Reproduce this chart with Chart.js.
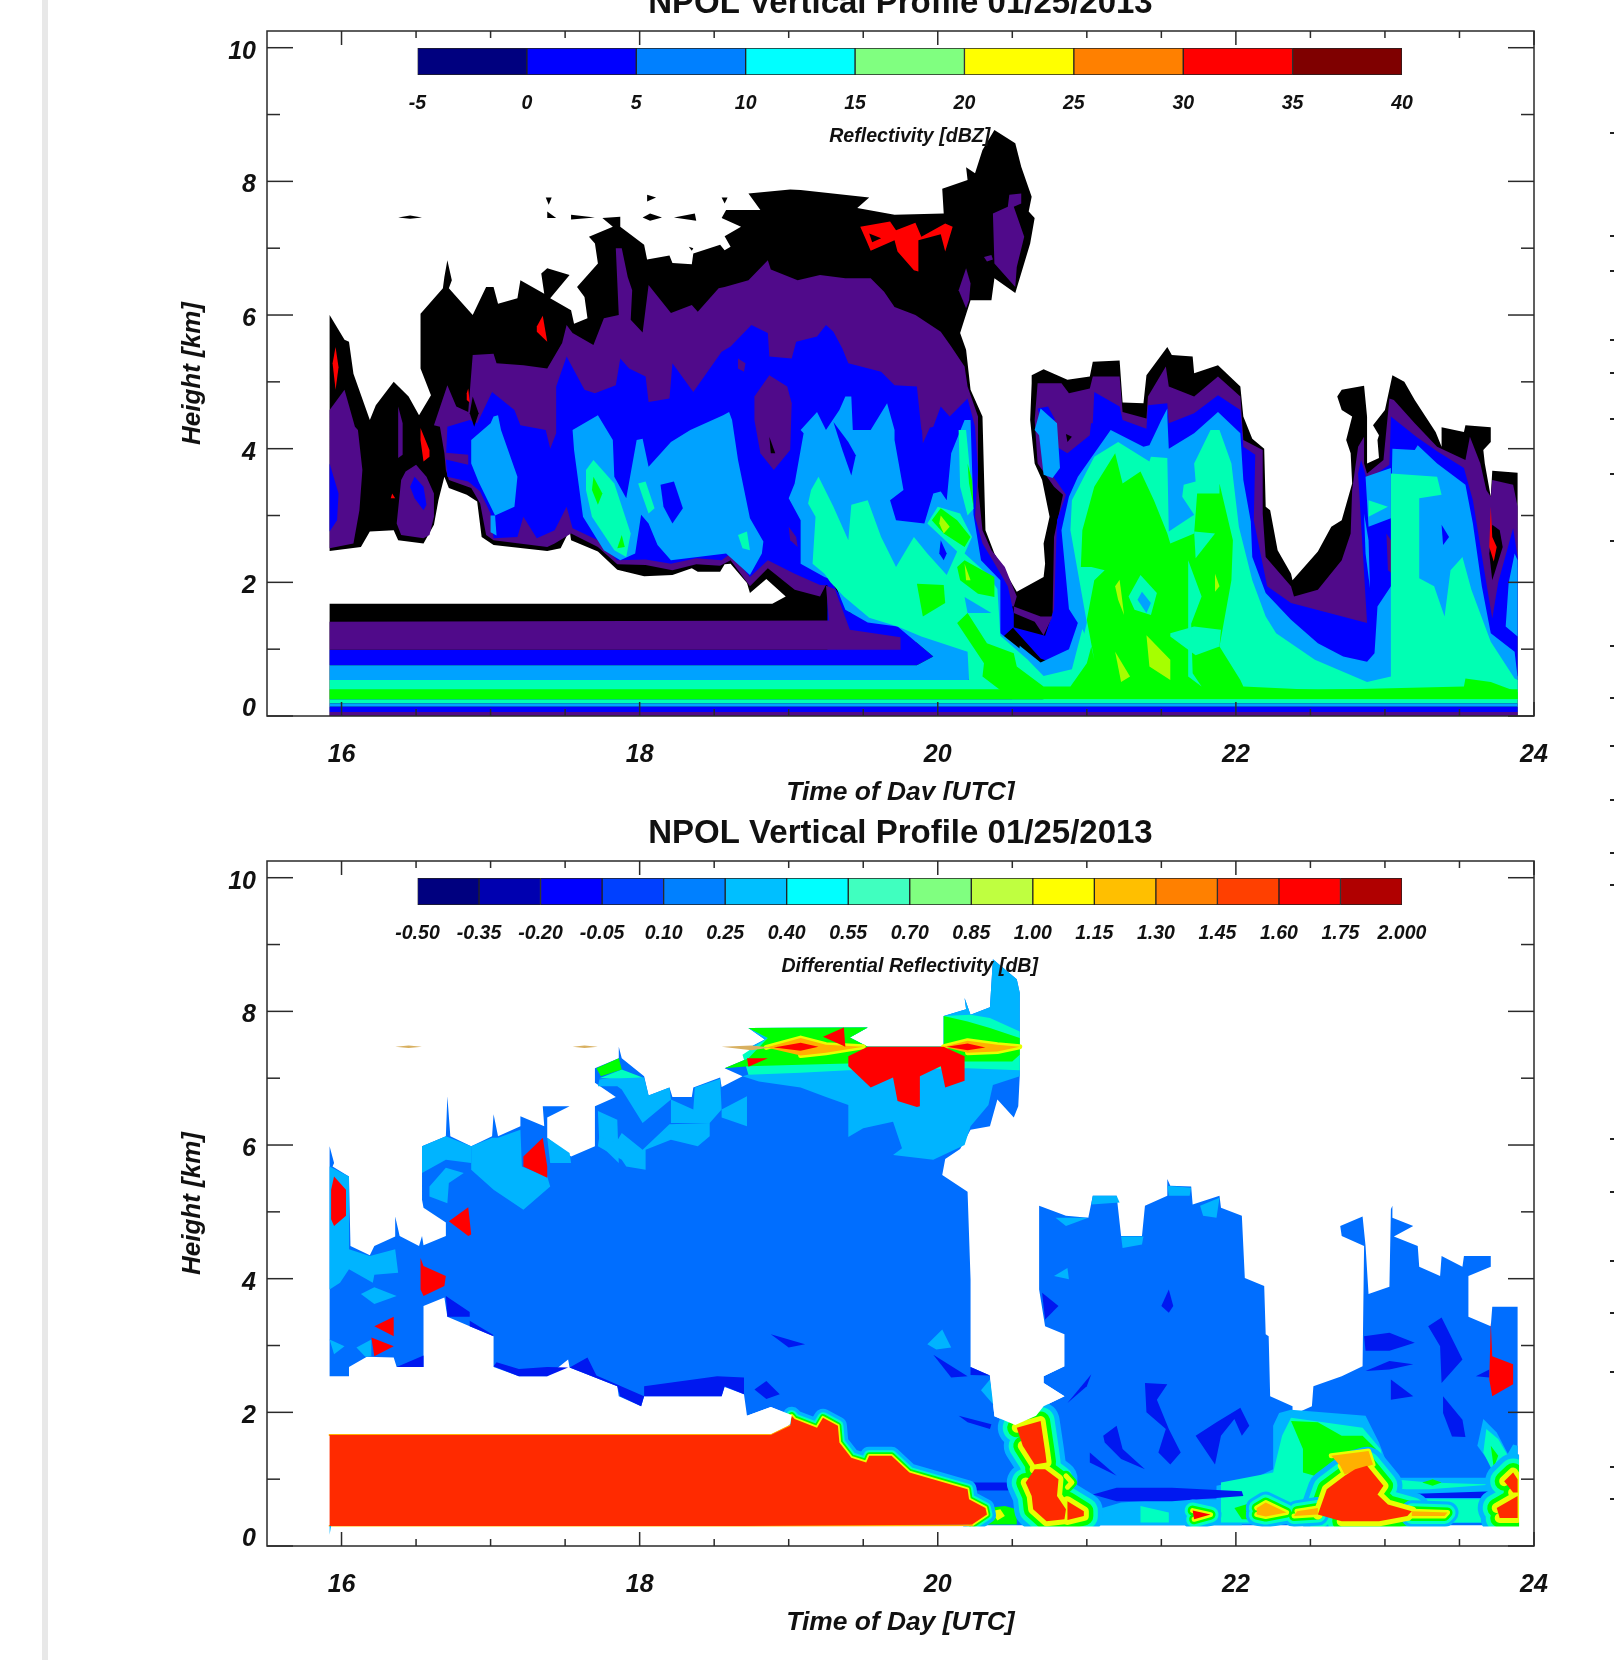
<!DOCTYPE html>
<html>
<head>
<meta charset="utf-8">
<title>NPOL Vertical Profile 01/25/2013</title>
<script src="https://cdn.jsdelivr.net/npm/chart.js@4"></script>
<style>
html, body { margin: 0; padding: 0; background: #fff; }
body { position: relative; width: 1614px; height: 1660px; overflow: hidden; }
.wrap { position: absolute; left: 0; width: 1614px; overflow: hidden; }
.wrap canvas { position: absolute; left: 0; }
.bar { position: absolute; left: 350px; }
.strip { position: absolute; left: 42px; top: 0; width: 6px; height: 1660px; background: #e8e8e8; }
.stray { position: absolute; left: 1610px; width: 4px; height: 2px; background: #222; }
</style>
</head>
<body>
<div class="strip"></div>
<div class="wrap" style="top:0;height:800px"><canvas id="refl" width="1614" height="896" style="top:-50px"></canvas></div>
<div class="wrap" style="top:800px;height:860px"><canvas id="zdr" width="1614" height="896" style="top:-20px"></canvas></div>
<canvas class="bar" id="reflBar" width="1130" height="120" style="top:35px"></canvas>
<canvas class="bar" id="zdrBar" width="1130" height="120" style="top:865px"></canvas>
<script>
// axes
const xMajor = [16, 18, 20, 22, 24];
const xMinor = [16.5, 17, 17.5, 18.5, 19, 19.5, 20.5, 21, 21.5, 22.5, 23, 23.5];
const yMajor = [0, 2, 4, 6, 8, 10];
const yMinor = [1, 3, 5, 7, 9];
const yLabelAt = [0.17, 2, 4, 6, 8, 10];
const yLabels = ['0', '2', '4', '6', '8', '10'];

// colour bars
const reflLabels = ['-5', '0', '5', '10', '15', '20', '25', '30', '35', '40'];
const reflColors = ['#00007f', '#0000ff', '#0080ff', '#00ffff', '#80ff80', '#ffff00', '#ff8000', '#ff0000', '#7f0000'];
const zdrLabels = ['-0.50', '-0.35', '-0.20', '-0.05', '0.10', '0.25', '0.40', '0.55', '0.70', '0.85', '1.00', '1.15', '1.30', '1.45', '1.60', '1.75', '2.000'];
const zdrColors = ['#00007f', '#0000b0', '#0000ff', '#0040ff', '#0080ff', '#00bfff', '#00ffff', '#40ffbf', '#80ff80', '#bfff40', '#ffff00', '#ffbf00', '#ff8000', '#ff4000', '#ff0000', '#b00000'];

// reflectivity contours, [hour, km]
const rBlack = [[15.92,6],[16.02,5.63],[16.05,5.6],[16.08,5.12],[16.19,4.43],[16.23,4.65],[16.35,5],[16.45,4.78],[16.52,4.5],[16.6,4.8],[16.53,5.2],[16.53,6.02],[16.68,6.4],[16.69,6.57],[16.71,6.82],[16.74,6.52],[16.72,6.4],[16.88,6],[16.97,6.42],[17.02,6.42],[17.05,6.17],[17.18,6.25],[17.2,6.52],[17.36,6.32],[17.34,6.62],[17.38,6.7],[17.53,6.6],[17.4,6.25],[17.54,6.07],[17.56,5.87],[17.65,5.95],[17.63,6.27],[17.58,6.42],[17.72,6.77],[17.7,7.07],[17.66,7.17],[17.82,7.32],[17.75,7.45],[17.87,7.47],[17.87,7.32],[18.03,7.05],[18.05,6.83],[18.2,6.89],[18.22,6.78],[18.35,6.76],[18.36,6.92],[18.54,7.05],[18.57,6.97],[18.61,7.02],[18.57,7.18],[18.68,7.32],[18.55,7.45],[18.58,7.57],[18.81,7.57],[18.73,7.82],[19.01,7.88],[19.08,7.87],[19.54,7.76],[19.46,7.6],[19.71,7.5],[20.04,7.52],[20.03,7.89],[20.2,8.02],[20.19,8.21],[20.25,8.12],[20.3,8.47],[20.38,8.77],[20.52,8.57],[20.56,8.22],[20.63,7.77],[20.61,7.55],[20.65,7.45],[20.62,7.07],[20.52,6.33],[20.38,6.55],[20.36,6.22],[20.22,6.22],[20.15,5.73],[20.19,5.48],[20.22,4.88],[20.3,4.48],[20.32,2.78],[20.38,2.43],[20.42,2.28],[20.53,1.86],[20.71,2.08],[20.72,2.28],[20.71,2.58],[20.75,2.98],[20.7,3.53],[20.65,3.78],[20.62,4.43],[20.63,4.98],[20.63,5.1],[20.71,5.19],[20.87,5.03],[21.02,5.08],[21.04,5.3],[21.22,5.32],[21.24,4.69],[21.38,4.68],[21.4,5.1],[21.54,5.52],[21.57,5.4],[21.71,5.38],[21.72,5.13],[21.88,5.25],[22.03,4.93],[22.05,4.48],[22.11,4.15],[22.19,4],[22.2,3.13],[22.23,3.08],[22.28,2.48],[22.37,2.13],[22.38,2.03],[22.55,2.46],[22.64,2.83],[22.71,2.93],[22.78,3.48],[22.77,3.93],[22.74,4.13],[22.78,4.48],[22.71,4.58],[22.68,4.78],[22.71,4.88],[22.86,4.94],[22.88,4.48],[22.88,3.78],[22.96,3.86],[22.95,4.13],[22.96,4.2],[22.92,4.35],[23,4.58],[23.05,5.1],[23.13,5],[23.2,4.73],[23.34,4.25],[23.38,4.03],[23.38,4.32],[23.53,4.25],[23.54,4.35],[23.71,4.32],[23.71,4.1],[23.66,3.98],[23.67,3.78],[23.71,3.28],[23.72,3.67],[23.89,3.64],[23.89,0],[15.92,0],[15.92,1.68],[18.89,1.68],[18.98,1.79],[18.85,2.05],[18.74,1.84],[18.72,1.99],[18.61,2.28],[18.57,2.27],[18.54,2.16],[18.39,2.16],[18.35,2.21],[18.22,2.11],[18.03,2.09],[17.85,2.19],[17.72,2.46],[17.54,2.63],[17.53,2.78],[17.47,2.51],[17.38,2.47],[17.02,2.56],[16.94,2.68],[16.91,3.21],[16.84,3.31],[16.72,3.41],[16.69,3.58],[16.65,3.23],[16.62,2.86],[16.55,2.58],[16.38,2.63],[16.35,2.78],[16.19,2.76],[16.13,2.53],[15.92,2.47]];
const rSpeck1 = [[16.38,7.46],[16.46,7.49],[16.54,7.46],[16.46,7.44]];
const rSpeck2 = [[17.37,7.76],[17.41,7.76],[17.39,7.65]];
const rSpeck3 = [[17.38,7.55],[17.44,7.45],[17.38,7.45]];
const rSpeck4 = [[17.54,7.5],[17.7,7.46],[17.54,7.43]];
const rSpeck5 = [[18.05,7.8],[18.11,7.76],[18.05,7.7]];
const rSpeck6 = [[18.02,7.46],[18.07,7.52],[18.15,7.46],[18.07,7.41]];
const rSpeck7 = [[18.23,7.46],[18.37,7.52],[18.38,7.41]];
const rSpeck8 = [[18.55,7.76],[18.59,7.76],[18.57,7.67]];
const rSpeck9 = [[18.33,7.02],[18.36,7],[18.35,6.96]];
const rPurpleLeft = [[15.92,4.58],[16.02,4.88],[16.09,4.33],[16.11,4.28],[16.14,3.68],[16.12,3.08],[16.08,2.58],[15.92,2.51]];
const rPurpleSliver = [[16.38,4.63],[16.41,4.38],[16.41,3.91],[16.38,3.86]];
const rPurpleIsle = [[16.5,3.76],[16.57,3.58],[16.62,3.33],[16.62,2.98],[16.59,2.71],[16.55,2.66],[16.4,2.71],[16.37,2.88],[16.4,3.53],[16.43,3.66]];
const rPurpleMain = [[16.71,4.95],[16.77,4.63],[16.85,4.55],[16.88,5.4],[17.02,5.42],[17.04,5.28],[17.22,5.25],[17.38,5.2],[17.48,5.58],[17.51,5.85],[17.55,5.73],[17.69,5.55],[17.76,5.95],[17.86,6],[17.84,7],[17.88,7],[17.92,6.57],[17.95,6.37],[17.94,5.93],[18.02,5.74],[18.06,6.45],[18.21,6.03],[18.35,6.15],[18.39,6.05],[18.53,6.4],[18.57,6.42],[18.73,6.52],[18.86,6.82],[18.88,6.68],[19.06,6.52],[19.21,6.6],[19.38,6.55],[19.55,6.55],[19.64,6.35],[19.71,6.12],[19.85,6],[20.02,5.75],[20.09,5.53],[20.18,5.23],[20.2,4.93],[20.27,4.48],[20.27,3.43],[20.3,2.78],[20.36,2.48],[20.45,2.23],[20.53,1.79],[20.51,1.64],[19.25,1.96],[19.21,1.79],[19.04,1.89],[18.86,2.21],[18.74,1.94],[18.61,2.33],[18.54,2.25],[18.38,2.27],[18.22,2.18],[18.04,2.26],[17.85,2.27],[17.72,2.53],[17.54,2.73],[17.43,2.58],[17.38,2.53],[17.02,2.63],[16.97,2.71],[16.93,3.18],[16.87,3.41],[16.72,3.53],[16.7,3.68],[16.69,3.93],[16.66,4.33],[16.62,4.35]];
const rPurpleLobe1 = [[20.37,7.52],[20.47,7.62],[20.48,7.8],[20.56,7.82],[20.56,7.67],[20.51,7.62],[20.58,7.17],[20.53,6.72],[20.52,6.42],[20.38,6.77]];
const rPurpleLobe2 = [[20.31,6.87],[20.36,6.9],[20.37,6.83],[20.33,6.8]];
const rPurpleLobe3 = [[20.14,6.37],[20.19,6.7],[20.22,6.47],[20.21,6.22],[20.19,6.1]];
const rPurpleEast = [[20.67,4.98],[20.83,4.98],[20.88,4.83],[21.02,4.9],[21.04,5.08],[21.22,5.08],[21.24,4.55],[21.4,4.45],[21.41,4.78],[21.53,5.23],[21.55,4.93],[21.72,4.78],[21.88,5.08],[22.03,4.78],[22.05,4.13],[22.18,3.98],[22.18,3.03],[22.2,2.38],[22.37,1.94],[22.39,1.79],[22.55,1.89],[22.71,2.33],[22.77,2.73],[22.78,3.38],[22.82,4.03],[22.86,4.18],[22.86,3.78],[22.88,3.63],[22.99,3.83],[23.03,4.75],[23.06,4.73],[23.2,4.38],[23.35,4.03],[23.54,3.83],[23.57,4.18],[23.64,3.78],[23.68,3.38],[23.71,3.28],[23.72,3.53],[23.86,3.46],[23.89,3.13],[23.89,2.23],[23.72,1.4],[22.88,1.37],[20.77,1.4],[20.77,1.49],[20.78,2.68],[20.84,3.31],[20.78,3.43],[20.67,3.78],[20.65,4.43]];
const rBlueLeft = [[15.92,3.78],[15.98,3.33],[15.97,2.93],[15.92,2.76]];
const rBlueIsle = [[16.49,3.58],[16.55,3.43],[16.57,3.16],[16.55,3.08],[16.49,3.26],[16.46,3.43]];
const rBlueMain = [[16.71,4.33],[16.86,4.43],[16.91,4.38],[17.01,4.85],[17.16,4.58],[17.2,4.35],[17.37,4.28],[17.4,4],[17.44,4.23],[17.44,4.93],[17.51,5.38],[17.63,4.88],[17.7,4.83],[17.84,4.95],[17.87,5.35],[17.93,5.2],[18.04,5.08],[18.06,4.7],[18.2,4.75],[18.22,5.28],[18.36,4.85],[18.55,5.45],[18.61,5.53],[18.75,5.85],[18.86,5.73],[18.87,5.38],[19.02,5.35],[19.05,5.6],[19.19,5.68],[19.25,5.85],[19.3,5.75],[19.36,5.5],[19.4,5.28],[19.62,5.15],[19.71,4.95],[19.86,4.93],[19.89,4.28],[19.97,4.33],[20.02,4.63],[20.08,4.48],[20.2,4.75],[20.25,4.33],[20.27,3.68],[20.25,2.98],[20.3,2.58],[20.36,2.36],[20.47,1.94],[20.51,1.54],[20.51,1.33],[20.42,1.15],[19.8,1.1],[19.45,1.4],[19.33,1.95],[19.21,1.96],[19.04,2.13],[18.86,2.33],[18.74,2.08],[18.61,2.43],[18.55,2.33],[18.38,2.36],[18.21,2.28],[18.04,2.34],[17.85,2.33],[17.72,2.63],[17.55,2.81],[17.51,3.13],[17.43,2.78],[17.31,2.66],[17.22,2.98],[17.18,2.68],[17.02,2.66],[17,3.03],[16.93,3.36],[16.85,3.51],[16.71,3.58],[16.7,3.83]];
const rBlueEast = [[20.67,4.6],[20.74,4.63],[20.8,4.38],[21.04,4.38],[21.05,4.85],[21.22,4.63],[21.24,4.43],[21.4,4.3],[21.41,4.65],[21.54,4.68],[21.55,4.38],[21.72,4.53],[21.88,4.8],[22.03,4.58],[22.05,4.03],[22.13,3.91],[22.12,2.93],[22.17,2.38],[22.21,1.94],[22.37,1.69],[22.88,1.39],[22.82,3.63],[22.84,3.83],[22.88,3.53],[23.03,3.76],[23.04,4.48],[23.21,4.18],[23.35,3.96],[23.53,3.71],[23.59,3.23],[23.67,2.13],[23.72,1.46],[23.76,2],[23.86,2.81],[23.89,2.38],[23.89,0.6],[21,0.6],[20.69,0.86],[20.5,1.33],[20.72,1.2],[20.78,1.6],[20.8,2.93],[20.86,3.31],[20.8,3.5],[20.7,3.82],[20.69,4.43]];
const rBlueBand = [[15.92,0.76],[19.86,0.76],[19.97,0.89],[19.73,1.34],[19.55,1.4],[19.41,1.55],[19.3,1.96],[19.26,1.96],[19.26,0.99],[15.92,0.99]];
const rPurpleBand = [[15.92,1.41],[19.27,1.43],[19.25,1.95],[19.31,1.9],[19.41,1.29],[19.75,1.18],[19.75,0.99],[15.92,0.99]];
const rPurpleStrip = [[16.7,3.94],[16.85,3.91],[16.85,3.76],[16.7,3.84]];
const rPurpleDome = [[18.77,4.78],[18.87,5.1],[18.99,4.93],[19.02,4.68],[19.01,3.98],[18.9,3.68],[18.81,3.93],[18.77,4.43]];
const rPurpleDot1 = [[18.66,5.35],[18.71,5.28],[18.7,5.15],[18.66,5.2]];
const rPurpleDot2 = [[19,2.83],[19.05,2.68],[19.06,2.53],[19.01,2.63]];
const rPurpleDot3 = [[19.89,4.43],[19.97,4.43],[19.9,4.08]];
const rPurpleDot4 = [[23.01,2.73],[23.04,2.63],[23.05,2.13],[23.02,2.18]];
const rPurpleGap = [[20.51,1.64],[20.69,1.49],[20.77,1.49],[20.71,1.21],[20.65,1.41],[20.51,1.54]];
const rPurpleKnob = [[20.74,4.43],[21.03,4.43],[21.02,4.2],[20.87,3.93],[20.78,4.05]];
const rBlackSliver = [[16.88,4.78],[16.92,4.53],[16.89,4.33],[16.86,4.53]];
const rBlackDot1 = [[18.87,4.18],[18.91,3.93],[18.88,3.93]];
const rBlackDot2 = [[20.86,4.22],[20.9,4.18],[20.87,4.1]];
const rBlackPocket = [[23.72,2.86],[23.77,2.78],[23.79,2.53],[23.72,2.03],[23.7,2.43]];
const rSky1 = [[16.87,4.13],[17,4.38],[17.02,4.48],[17.05,4.5],[17.07,4.28],[17.18,3.58],[17.16,3.13],[17.03,3],[16.98,3.23],[16.92,3.5],[16.87,3.78]];
const rSky1b = [[17,3],[17.03,3],[17.04,2.7],[17,2.75]];
const rSky2 = [[17.55,4.28],[17.72,4.5],[17.82,4.13],[17.83,3.58],[17.91,3.26],[17.98,4.13],[18.02,4.15],[18.06,3.73],[18.21,4.1],[18.34,4.28],[18.56,4.5],[18.6,4.55],[18.62,4.43],[18.66,3.83],[18.74,2.96],[18.83,2.61],[18.82,2.43],[18.74,2.11],[18.58,2.43],[18.21,2.33],[18.12,2.56],[18.06,2.88],[18.01,3.01],[17.97,2.43],[17.87,2.33],[17.76,2.48],[17.62,2.98],[17.56,3.98]];
const rSky3 = [[19.1,4.23],[19.08,4.28],[19.19,4.55],[19.25,4.28],[19.34,4.58],[19.38,4.78],[19.42,4.78],[19.43,4.28],[19.55,4.28],[19.66,4.68],[19.71,4.28],[19.71,4.13],[19.77,3.38],[19.68,3.23],[19.72,2.93],[19.91,2.88],[19.97,3.33],[20.02,3.36],[20.06,3.23],[20.09,3.93],[20.18,4.43],[20.22,4.43],[20.24,3.01],[20.29,2.33],[20.42,2.03],[20.42,1.24],[20.56,0.99],[20.71,0.61],[20.62,0.6],[20.2,0.54],[15.92,0.54],[15.92,0.76],[19.86,0.76],[19.97,0.89],[19.73,1.34],[19.53,1.4],[19.38,1.59],[19.3,2.03],[19.24,2.08],[19.08,2.28],[19.08,2.93],[19,3.26],[19.04,3.48]];
const rSkyV = [[20.55,1.05],[20.69,0.8],[20.88,1],[20.94,1.39],[20.95,0.3],[20.5,0.3]];
const rBluePocket1 = [[18.14,3.46],[18.23,3.51],[18.29,3.11],[18.22,2.88],[18.16,3.13]];
const rBluePocket2 = [[20.02,2.63],[20.06,2.43],[20.04,2.33],[20.01,2.43]];
const rBluePocket3 = [[19.3,4.4],[19.4,4.1],[19.45,3.9],[19.42,3.6],[19.36,3.98]];
const rSkyEastTop = [[20.65,4.28],[20.69,4.6],[20.8,4.38],[20.82,3.71],[20.77,3.56],[20.71,3.61],[20.68,4.2]];
const rSkyEast = [[20.83,2.78],[20.88,3.28],[20.94,3.58],[21.16,4.28],[21.38,4.03],[21.42,4.05],[21.5,4.43],[21.54,4.6],[21.54,4.48],[21.55,4],[21.72,4.23],[21.88,4.55],[22.03,4.23],[22.05,3.53],[22.1,2.91],[22.11,2.38],[22.2,1.84],[22.37,1.44],[22.55,1.09],[22.72,0.89],[22.88,0.81],[22.93,0.94],[22.95,1.64],[23.04,1.94],[23.1,2.28],[23.04,2.93],[23.05,4],[23.2,3.98],[23.22,4.05],[23.35,3.78],[23.54,3.46],[23.59,2.88],[23.65,1.94],[23.71,1.24],[23.87,0.96],[23.89,0.58],[23.89,0.3],[20.9,0.3],[20.9,0.84],[20.94,1.39],[20.88,1.6]];
const rSkyPatch = [[22.87,3.58],[23.04,3.71],[23.04,2.96],[22.89,2.83]];
const rBlueDot = [[23.38,2.86],[23.43,2.68],[23.39,2.56]];
const rSkySliver = [[22.86,3.03],[22.89,2.63],[22.9,1.91],[22.87,2.43]];
const rSkyRight = [[23.83,1.99],[23.87,2.43],[23.89,2.33],[23.89,1.19],[23.81,1.34]];
const rTeal1 = [[17.64,3.68],[17.69,3.83],[17.83,3.48],[17.94,2.73],[17.91,2.38],[17.83,2.48],[17.68,2.98],[17.64,3.38]];
const rTeal2 = [[17.99,3.48],[18.04,3.51],[18.1,3.11],[18.06,3.03],[18.02,3.28]];
const rTeal3 = [[18.66,2.71],[18.72,2.76],[18.74,2.48],[18.69,2.51]];
const rTealMid = [[19.15,3.38],[19.2,3.58],[19.3,3.13],[19.4,2.63],[19.42,3.16],[19.53,3.23],[19.62,2.68],[19.72,2.23],[19.84,2.68],[19.93,2.43],[20.06,2.11],[20.13,2.46],[19.93,2.88],[20,3.13],[20.15,3.03],[20.23,2.68],[20.18,2.43],[20.33,2.13],[20.4,1.9],[20.42,1.2],[20.6,0.85],[20.72,0.42],[20.72,0.39],[15.92,0.39],[15.92,0.54],[20.21,0.54],[20.2,0.96],[19.89,1.19],[19.73,1.34],[19.54,1.47],[19.37,1.79],[19.28,2],[19.24,2.13],[19.16,2.28],[19.18,2.98],[19.13,3.18]];
const rTealV = [[20.6,0.85],[20.71,0.6],[20.9,0.7],[20.97,1.3],[21.03,1],[21,0.4],[20.6,0.4]];
const rTealCol = [[20.14,4.28],[20.19,4.28],[20.24,3.1],[20.2,3],[20.15,3.43]];
const rTealEast = [[20.89,2.78],[20.9,3.23],[21.05,3.88],[21.21,4.1],[21.42,3.81],[21.43,3.88],[21.54,3.86],[21.55,2.76],[21.72,3.01],[21.64,3.28],[21.65,3.46],[21.73,3.51],[21.72,3.78],[21.83,4.28],[21.89,4.28],[21.97,3.78],[22.02,2.83],[22.11,2.03],[22.2,1.49],[22.27,1.24],[22.53,0.84],[22.88,0.51],[23.04,0.59],[23.04,3.63],[23.35,3.58],[23.38,3.31],[23.23,3.26],[23.23,2.06],[23.33,1.94],[23.4,1.49],[23.44,2.18],[23.52,2.38],[23.58,1.89],[23.71,1.11],[23.87,0.56],[23.89,0.54],[23.89,0.24],[20.7,0.24],[20.9,0.44],[21,1.4]];
const rTealNotch = [[22.89,3.23],[23.02,3.13],[22.89,2.98]];
const rGreen1 = [[17.69,3.58],[17.75,3.33],[17.72,3.16],[17.68,3.38]];
const rGreen2 = [[17.88,2.71],[17.9,2.53],[17.85,2.51]];
const rGreen3 = [[20.2,3.78],[20.23,3.53],[20.24,3.13],[20.21,3.48]];
const rGreen4 = [[19.86,1.98],[20.04,1.96],[20.05,1.69],[19.9,1.49]];
const rGreen5 = [[19.96,2.93],[20.02,3.11],[20.13,2.93],[20.22,2.68],[20.18,2.53],[20.04,2.73]];
const rGreen6 = [[20.13,2.23],[20.18,2.33],[20.38,2.08],[20.38,1.78],[20.27,1.83],[20.15,2.03]];
const rGreenEast = [[20.97,2.78],[21.05,3.43],[21.19,3.93],[21.24,3.48],[21.36,3.66],[21.45,3.23],[21.54,2.73],[21.56,2.58],[21.72,2.73],[21.74,3.33],[21.89,3.33],[21.89,3.48],[21.98,2.63],[21.97,2.03],[21.89,1.04],[22.03,0.54],[22.05,0.44],[22.55,0.39],[23.53,0.44],[23.54,0.56],[23.71,0.51],[23.89,0.36],[23.89,0.25],[20.5,0.25],[20.3,0.59],[20.31,0.79],[20.13,1.39],[20.2,1.54],[20.33,1.09],[20.51,0.94],[20.53,0.74],[20.71,0.44],[20.89,0.44],[21,0.79],[21.03,1.04],[21.05,0.84],[21,1.44],[21.05,2.03],[21.12,2.18],[21.03,2.23],[20.96,2.23]];
const rTealOver1 = [[21.72,2.76],[21.86,2.73],[21.73,2.36]];
const rTealOver2 = [[21.56,1.24],[21.72,1.34],[21.9,1.29],[21.89,1.04],[21.73,0.91],[21.56,1.19]];
const rTealOver3 = [[21.68,2.33],[21.77,1.79],[21.7,1.38],[21.71,0.64],[21.77,0.44],[21.68,0.59]];
const rTealRing = [[21.28,1.79],[21.36,2.11],[21.47,1.84],[21.43,1.51],[21.32,1.59]];
const rSkyRing = [[21.34,1.74],[21.37,1.86],[21.43,1.69],[21.4,1.54]];
const rSkyMid = [[20.18,1.78],[20.36,1.54],[20.2,1.54]];
const rYg1 = [[20.02,3],[20.08,2.83],[20.04,2.73],[20.01,2.88]];
const rYg2 = [[20.18,2.28],[20.22,2.03],[20.19,2.03]];
const rYg3 = [[21.19,1.94],[21.22,2.04],[21.25,1.51],[21.21,1.74]];
const rYg4 = [[21.19,0.96],[21.29,0.59],[21.23,0.51]];
const rYg5 = [[21.4,1.21],[21.56,0.84],[21.56,0.54],[21.42,0.74]];
const rYg6 = [[21.86,2.13],[21.89,1.94],[21.86,1.86]];
const rStripeGreen = [[15.92,0.25],[15.92,0.4],[23.89,0.4],[23.89,0.25]];
const rStripeTeal = [[15.92,0.19],[15.92,0.25],[23.89,0.25],[23.89,0.19]];
const rStripeSky = [[15.92,0.14],[15.92,0.19],[23.89,0.19],[23.89,0.14]];
const rStripeBlue = [[15.92,0.06],[15.92,0.14],[23.89,0.14],[23.89,0.06]];
const rStripePurple = [[15.92,0],[15.92,0.06],[23.89,0.06],[23.89,0]];
const rRedTop = [[19.48,7.32],[19.68,7.4],[19.72,7.27],[19.85,7.38],[19.89,7.17],[20.05,7.37],[20.1,7.32],[20.05,6.95],[20.02,7.21],[19.87,7.12],[19.87,6.65],[19.84,6.67],[19.73,6.95],[19.71,7.12],[19.55,6.96],[19.52,7.12]];
const rRedHole = [[19.54,7.22],[19.62,7.15],[19.56,7.09]];
const rRed1 = [[15.94,5.28],[15.96,5.52],[15.98,5.22],[15.96,4.88]];
const rRed2 = [[17.31,5.83],[17.35,5.99],[17.38,5.6],[17.31,5.75]];
const rRed3 = [[16.84,4.83],[16.85,4.9],[16.86,4.69],[16.84,4.73]];
const rRed4 = [[16.53,4.31],[16.59,3.98],[16.59,3.88],[16.55,3.81],[16.53,4.13]];
const rRed5 = [[16.34,3.33],[16.36,3.26],[16.33,3.26]];
const rRed6 = [[23.71,3.13],[23.72,2.68],[23.75,2.53],[23.73,2.31],[23.7,2.53]];

// differential reflectivity contours, [hour, km]
const zMain = [[15.92,5.98],[15.95,5.73],[15.94,5.68],[16.05,5.53],[16.06,4.49],[16.19,4.35],[16.22,4.49],[16.36,4.63],[16.36,4.93],[16.39,4.64],[16.52,4.49],[16.54,4.64],[16.55,4.5],[16.7,4.64],[16.7,4.84],[16.55,5.06],[16.54,5.18],[16.54,5.98],[16.7,6.13],[16.71,6.73],[16.73,6.13],[16.87,5.98],[17.01,6.13],[17.02,6.46],[17.05,6.13],[17.2,6.28],[17.2,6.43],[17.36,6.28],[17.35,6.58],[17.53,6.58],[17.38,6.41],[17.38,6.11],[17.54,5.83],[17.7,5.98],[17.7,6.58],[17.84,6.72],[17.7,6.93],[17.7,7.15],[17.86,7.3],[17.86,7.47],[17.88,7.3],[18.03,7.03],[18.06,6.74],[18.2,6.86],[18.22,6.72],[18.35,6.72],[18.36,6.86],[18.54,7.01],[18.55,6.87],[18.69,7.03],[18.57,7.15],[18.73,7.3],[18.86,7.3],[18.73,7.45],[18.84,7.58],[18.73,7.75],[19.53,7.76],[19.41,7.61],[19.53,7.47],[20.04,7.47],[20.04,7.93],[20.19,8.03],[20.18,8.2],[20.22,7.95],[20.35,8.06],[20.37,8.78],[20.53,8.48],[20.55,8.28],[20.55,7.03],[20.54,6.58],[20.51,6.41],[20.4,6.68],[20.35,6.28],[20.22,6.23],[20.15,5.94],[20.05,5.79],[20.03,5.55],[20.2,5.3],[20.22,3.99],[20.22,2.68],[20.35,2.55],[20.38,1.94],[20.52,1.81],[20.66,1.95],[20.71,2.09],[20.85,2.24],[20.71,2.44],[20.71,2.54],[20.85,2.69],[20.85,3.17],[20.72,3.29],[20.68,3.84],[20.68,5.09],[20.86,4.94],[21.01,4.91],[21.04,5.24],[21.2,5.24],[21.23,4.64],[21.37,4.64],[21.39,5.09],[21.54,5.24],[21.54,5.49],[21.56,5.39],[21.7,5.38],[21.71,5.11],[21.89,5.24],[21.9,5.06],[22.04,4.94],[22.06,4.01],[22.19,3.89],[22.2,3.17],[22.22,3.14],[22.23,2.24],[22.38,2.09],[22.38,1.96],[22.51,2.09],[22.52,2.39],[22.71,2.54],[22.85,2.69],[22.86,4.49],[22.71,4.64],[22.7,4.79],[22.85,4.93],[22.87,4.49],[22.89,3.77],[23.03,3.88],[23.04,5.04],[23.05,5.09],[23.05,4.91],[23.19,4.79],[23.06,4.63],[23.22,4.49],[23.23,4.18],[23.37,4.04],[23.38,4.34],[23.52,4.18],[23.53,4.34],[23.71,4.34],[23.71,4.18],[23.56,4.04],[23.56,3.43],[23.71,3.29],[23.72,3.58],[23.89,3.58],[23.89,0.31],[19,0.31],[19.02,1.95],[18.88,2.08],[18.72,1.95],[18.7,2.27],[18.57,2.38],[18.55,2.24],[18.03,2.24],[18.01,2.09],[17.86,2.24],[17.85,2.39],[17.53,2.67],[17.52,2.79],[17.38,2.54],[17.19,2.54],[17.02,2.68],[17.02,3.14],[16.86,3.29],[16.71,3.43],[16.69,3.72],[16.55,3.59],[16.55,2.68],[16.37,2.68],[16.35,2.82],[16.17,2.83],[16.05,2.68],[16.05,2.54],[15.92,2.54]];
const zSky1 = [[15.92,5.68],[16.05,5.53],[16.05,4.44],[16.19,4.34],[16.36,4.44],[16.38,4.09],[16.22,4.06],[16.21,3.94],[16.05,4.14],[15.99,3.94],[15.92,3.84]];
const zSky2 = [[16.13,3.77],[16.22,3.87],[16.37,3.74],[16.22,3.62]];
const zSky3 = [[16.1,2.97],[16.2,3.09],[16.2,2.84],[16.16,2.83]];
const zSky4 = [[15.92,3.09],[16.02,2.99],[15.95,2.87]];
const zSky5 = [[16.54,5.98],[16.7,6.13],[16.87,5.98],[16.87,5.73],[16.7,5.78],[16.54,5.58]];
const zSky6 = [[16.59,5.38],[16.7,5.66],[16.82,5.58],[16.72,5.43],[16.71,5.13],[16.59,5.23]];
const zSky7 = [[16.87,5.98],[17.01,6.11],[17.05,6.11],[17.2,6.23],[17.21,5.68],[17.38,5.53],[17.4,5.38],[17.22,5.03],[17.02,5.33],[16.87,5.63]];
const zSky8 = [[17.38,6.11],[17.53,5.88],[17.54,5.73],[17.4,5.73]];
const zSky9 = [[17.72,6.51],[17.85,6.38],[17.86,5.73],[17.73,6.01]];
const zSky10 = [[17.73,6.98],[17.88,7.03],[18.03,7.01],[18.06,6.74],[18.2,6.86],[18.21,6.68],[18.02,6.33],[17.88,6.83],[17.85,6.88],[17.72,6.88]];
const zSky11 = [[17.88,6.18],[18.02,5.93],[18.2,6.31],[18.47,6.33],[18.47,6.13],[18.39,5.98],[18.21,6.08],[18.04,5.93],[18.04,5.63],[17.91,5.68],[17.88,5.78],[17.72,5.98],[17.73,6.13],[17.84,6.03]];
const zSky12 = [[18.21,6.68],[18.36,6.53],[18.37,6.86],[18.54,6.99],[18.55,6.53],[18.47,6.33],[18.21,6.33]];
const zSky13 = [[18.55,6.53],[18.72,6.73],[18.72,6.28],[18.55,6.41]];
const zSky14 = [[20.78,4.04],[20.87,4.16],[20.88,3.99]];
const zSky15 = [[21.04,5.24],[21.2,5.24],[21.22,5.14],[21.03,5.11]];
const zSky16 = [[21.23,4.63],[21.38,4.63],[21.37,4.51],[21.24,4.46]];
const zSky17 = [[20.79,4.91],[21.01,4.91],[20.86,4.79]];
const zSky18 = [[21.76,5.09],[21.89,5.21],[21.87,4.91],[21.78,4.94]];
const zSky19 = [[21.54,5.39],[21.7,5.36],[21.69,5.24],[21.55,5.24]];
const zSky20 = [[20.29,2.33],[20.35,2.49],[20.38,2.1]];
const zSky21 = [[19.93,3.02],[20.03,3.24],[20.09,2.97],[19.99,2.94]];
const zSkyTop = [[18.69,7.03],[18.8,7.1],[18.73,7.3],[18.86,7.3],[18.73,7.45],[18.84,7.58],[18.73,7.75],[19.53,7.76],[19.41,7.61],[19.53,7.47],[20.04,7.47],[20.04,7.93],[20.19,8.03],[20.18,8.2],[20.22,7.95],[20.35,8.06],[20.37,8.78],[20.53,8.48],[20.55,8.28],[20.55,7.03],[20.37,6.9],[20.34,6.6],[20.22,6.28],[20.18,6],[19.97,5.78],[19.7,5.85],[19.76,5.95],[19.7,6.35],[19.5,6.25],[19.4,6.12],[19.4,6.6],[19.25,6.72],[19.08,6.86],[18.8,6.95]];
const zTealTop = [[18.73,7.05],[19.08,7.08],[19.4,7.12],[20.2,7.15],[20.55,7.12],[20.55,7.7],[20.35,7.9],[20.22,7.95],[20.04,7.93],[20.04,7.47],[19.53,7.47],[19.41,7.61],[19.53,7.76],[18.73,7.75],[18.86,7.6],[18.69,7.35]];
const zGreenTop = [[18.57,7.15],[18.73,7.18],[19.08,7.2],[19.4,7.22],[20.15,7.25],[20.5,7.25],[20.55,7.35],[20.55,7.6],[20.35,7.75],[20.2,7.85],[20.04,7.93],[20.04,7.47],[19.53,7.47],[19.41,7.61],[19.53,7.76],[18.73,7.75],[18.86,7.6],[18.73,7.3]];
const zGreenA = [[17.71,7.15],[17.86,7.3],[17.88,7.13],[17.74,7.03]];
const zTealA = [[17.73,7],[17.88,7.13],[18.02,7.01],[17.87,7]];
const zLensOrange1 = [[18.85,7.46],[19.08,7.6],[19.25,7.5],[19.5,7.47],[19.25,7.38],[19.08,7.34]];
const zLensRed1 = [[18.9,7.46],[19.08,7.53],[19.2,7.47],[19.08,7.41]];
const zLensOrange2 = [[20.04,7.47],[20.2,7.56],[20.4,7.5],[20.55,7.47],[20.4,7.4],[20.2,7.38]];
const zLensRed2 = [[20.06,7.47],[20.2,7.52],[20.32,7.46],[20.2,7.42]];
const zGold1 = [[16.36,7.47],[16.45,7.49],[16.54,7.47],[16.45,7.45]];
const zGold2 = [[17.55,7.47],[17.63,7.49],[17.72,7.47],[17.63,7.45]];
const zGold3 = [[18.55,7.47],[18.75,7.49],[18.88,7.46],[18.75,7.42]];
const zRedA = [[19.23,7.62],[19.37,7.76],[19.38,7.47]];
const zRedB = [[18.72,7.3],[18.86,7.3],[18.73,7.17]];
const zRedC = [[19.4,7.33],[19.53,7.47],[20.04,7.47],[20.18,7.33],[20.18,6.96],[20.05,6.86],[20.02,7.18],[19.88,7.03],[19.88,6.58],[19.86,6.57],[19.73,6.66],[19.7,7.01],[19.55,6.86],[19.4,7.18]];
const zRed1 = [[15.95,5.53],[16.03,5.33],[16.03,4.94],[15.95,4.79],[15.93,4.89],[15.93,5.33]];
const zRed2 = [[16.72,4.86],[16.85,5.07],[16.87,4.66],[16.85,4.64]];
const zRed3 = [[17.22,5.83],[17.35,6.11],[17.38,5.68],[17.38,5.51],[17.22,5.68]];
const zRed4 = [[16.53,4.31],[16.55,4.19],[16.7,4.04],[16.69,3.89],[16.55,3.74],[16.53,3.84]];
const zRed5 = [[16.22,3.29],[16.35,3.43],[16.35,3.14]];
const zRed6 = [[16.2,3.12],[16.35,2.99],[16.22,2.84]];
const zRed7 = [[23.71,3.34],[23.72,2.84],[23.86,2.72],[23.86,2.42],[23.72,2.24],[23.7,2.49]];
const zDark1 = [[17.02,2.69],[17.19,2.54],[17.38,2.54],[17.52,2.67],[17.38,2.68],[17.19,2.65],[17.04,2.75]];
const zDark2 = [[17.53,2.67],[17.65,2.82],[17.71,2.55],[18.03,2.24],[18.01,2.09],[17.87,2.24],[17.85,2.39]];
const zDark3 = [[18.03,2.39],[18.52,2.54],[18.7,2.52],[18.7,2.27],[18.57,2.39],[18.55,2.24],[18.03,2.24]];
const zDark4 = [[18.77,2.34],[18.85,2.47],[18.94,2.27],[18.85,2.2]];
const zDark5 = [[16.7,3.74],[16.86,3.5],[16.86,3.43],[16.71,3.43]];
const zDark6 = [[16.86,3.37],[17.01,3.17],[17.02,3.14],[16.86,3.29]];
const zDark7 = [[18.88,3.17],[19.11,3.02],[19,2.97]];
const zDark8 = [[19.97,2.86],[20.2,2.54],[20.09,2.52]];
const zDark9 = [[20.14,1.95],[20.36,1.82],[20.35,1.75],[20.2,1.85]];
const zDark10 = [[20.22,2.68],[20.35,2.55],[20.22,2.56]];
const zDark11 = [[16.37,2.68],[16.55,2.85],[16.55,2.68]];
const zDark12 = [[21.11,1.65],[21.2,1.8],[21.24,1.45],[21.39,1.15],[21.23,1.3],[21.12,1.55]];
const zDark13 = [[21.39,2.44],[21.54,2.42],[21.47,2.19],[21.55,1.75],[21.63,1.4],[21.56,1.22],[21.48,1.4],[21.53,1.75],[21.4,2]];
const zDark14 = [[21.87,1.85],[22.03,2.07],[22.09,1.8],[22.04,1.65],[21.99,1.9],[21.9,1.65],[21.86,1.22],[21.73,1.65]];
const zDark15 = [[21.02,1.4],[21.2,1.05],[21.02,1.25]];
const zDark16 = [[20.7,3.79],[20.81,3.59],[20.72,3.39]];
const zDark17 = [[20.87,2.14],[21.03,2.57],[21,2.39]];
const zDark18 = [[22.86,3.14],[23.03,3.19],[23.2,3.04],[23.03,2.92],[22.87,2.92]];
const zDark19 = [[22.87,2.62],[23.03,2.77],[23.19,2.72],[23.03,2.64]];
const zDark20 = [[23.04,2.49],[23.19,2.24],[23.04,2.19]];
const zDark21 = [[23.29,3.29],[23.38,3.42],[23.52,2.79],[23.38,2.44],[23.37,2.99]];
const zDark22 = [[23.39,2.24],[23.52,1.89],[23.54,1.63],[23.45,1.64],[23.39,1.99]];
const zDark23 = [[23.61,2.54],[23.7,2.64],[23.7,2.52]];
const zDark24 = [[21.5,3.59],[21.55,3.84],[21.58,3.59],[21.55,3.49]];
const zLowSky1 = [[22.25,1.8],[22.29,1.99],[22.37,2.04],[22.87,1.95],[22.96,1.55],[23.05,1.02],[23.73,1.02],[23.86,1.52],[23.89,1.5],[23.89,0.35],[21.87,0.32],[21.87,0.9],[22.13,1.02],[22.25,1.15]];
const zLowSky2 = [[21,0.5],[21.23,0.65],[21.57,0.7],[22.04,0.7],[22.04,0.31],[21,0.31]];
const zLowSky3 = [[23.66,1.9],[23.75,1.7],[23.89,1.1],[23.75,1.1],[23.62,1.5]];
const zLowTeal1 = [[22.31,1.65],[22.37,1.92],[22.85,1.77],[22.97,1.45],[23.05,0.7],[23.73,0.7],[23.89,0.35],[21.9,0.35],[21.9,0.95],[22.25,1.1]];
const zLowTeal2 = [[23.05,1],[23.3,0.95],[23.72,0.92],[23.3,0.85],[23.05,0.85]];
const zLowTeal3 = [[21.36,0.6],[21.55,0.5],[21.55,0.35],[21.36,0.35]];
const zBand1 = [[21.04,0.77],[21.2,0.87],[21.57,0.87],[22.04,0.82],[22.05,0.75],[21.57,0.67],[21.2,0.67]];
const zBand2 = [[23.05,0.77],[23.73,0.82],[23.74,0.72],[23.05,0.72]];
const zBand3 = [[20.2,0.95],[20.55,0.95],[20.55,0.83],[20.2,0.83]];
const zGreenLow = [[22.37,1.87],[22.55,1.85],[22.71,1.65],[22.85,1.65],[22.94,1.45],[23.03,0.75],[23.19,0.6],[23.42,0.47],[23.42,0.38],[22.04,0.4],[21.99,0.57],[22.18,0.7],[22.34,0.57],[22.55,0.7],[22.61,1],[22.45,1.1],[22.45,1.45]];
const zGreenBit = [[23.25,0.95],[23.32,1],[23.38,0.95],[23.32,0.9]];
const zGreenTip = [[20.24,0.32],[20.33,0.57],[20.45,0.6],[20.53,0.55],[20.53,0.32]];
const zYellowTip = [[20.36,0.52],[20.42,0.55],[20.45,0.45],[20.4,0.38]];
const zTealCol = [[23.68,1.75],[23.76,1.6],[23.89,1.1],[23.75,1],[23.66,1.4]];
const zGreenCol = [[23.71,1.5],[23.76,1.35],[23.73,1.17]];
const zHotA1 = [[20.53,1.77],[20.69,1.87],[20.72,1.42],[20.73,1.25],[20.65,1.22],[20.57,1.5]];
const zHotA2 = [[20.65,1.15],[20.72,1.15],[20.81,1],[20.8,0.75],[20.86,0.55],[20.85,0.4],[20.73,0.37],[20.64,0.55],[20.63,0.75],[20.59,0.95]];
const zHotA3 = [[20.87,0.67],[20.98,0.52],[20.98,0.45],[20.87,0.39]];
const zHotB = [[22.55,0.47],[22.61,0.85],[22.73,1.05],[22.8,1.15],[22.88,1.2],[22.99,0.9],[22.95,0.77],[23.02,0.62],[23.18,0.52],[23.15,0.45],[22.96,0.37],[22.71,0.37]];
const zOrangeB = [[22.64,1.35],[22.89,1.42],[22.92,1.22],[22.73,1.07],[22.7,1.2]];
const zHotC1 = [[23.75,0.57],[23.89,0.75],[23.89,0.42],[23.77,0.42]];
const zHotC2 = [[23.8,0.97],[23.86,1.1],[23.89,1],[23.89,0.8],[23.86,0.8]];
const zHotD = [[21.71,0.53],[21.83,0.47],[21.72,0.4]];
const zWarmE1 = [[22.14,0.57],[22.2,0.65],[22.34,0.5],[22.2,0.44],[22.14,0.47]];
const zWarmE2 = [[22.41,0.52],[22.55,0.57],[22.55,0.47],[22.39,0.45]];
const zWarmF = [[23.18,0.52],[23.42,0.5],[23.4,0.45],[23.18,0.45]];
const zWarmG = [[20.86,1.05],[20.9,0.95],[20.87,0.88]];
const zBase = [[15.92,0.3],[15.92,1.66],[18.88,1.66],[19.01,1.8],[19.02,1.95],[19.04,1.9],[19.19,1.77],[19.23,1.92],[19.33,1.8],[19.34,1.55],[19.42,1.32],[19.52,1.25],[19.54,1.35],[19.69,1.35],[19.81,1.1],[20.2,0.85],[20.21,0.7],[20.32,0.57],[20.33,0.47],[20.23,0.32],[18.7,0.3]];
const zBaseRim = [[19.02,1.95],[19.04,1.9],[19.19,1.77],[19.23,1.92],[19.33,1.8],[19.34,1.55],[19.42,1.32],[19.52,1.25],[19.54,1.35],[19.69,1.35],[19.81,1.1],[20.2,0.85],[20.21,0.7],[20.32,0.57],[20.33,0.47],[20.23,0.32]];
const zBaseTop = [[15.92,1.66],[18.88,1.66],[19.01,1.8]];
const zBaseBottom = [[15.92,0.3],[18.7,0.3],[20.23,0.31]];
const zMaskBottom = [[15.5,0],[15.5,0.29],[24,0.29],[24,0]];
const zMaskRight = [[23.9,0],[23.9,3.7],[24,3.7],[24,0]];
const zMaskGapEast = [[20.35,2.55],[20.38,1.94],[20.52,1.81],[20.66,1.95],[20.71,2.09],[20.85,2.24],[20.71,2.44],[20.71,2.54],[20.85,2.69],[20.6,3]];
const zMaskGapWest = [[18.2,1.68],[18.88,1.68],[19.01,1.82],[19.02,1.96],[18.88,2.08],[18.72,1.95],[18.2,2.2]];
const zFoot = [[15.92,0.3],[15.93,0.3],[15.92,0.17]];

// stray ticks of the next panel, cut off by the right edge of the scan
const strayY = [132, 235, 270, 339, 372, 418, 473, 540, 645, 697, 745, 799, 852, 884, 1138, 1191, 1260, 1312, 1371, 1466, 1498];

const BLACK = '#000000', PURPLE = '#500a8a', BLUE = '#0000ff', SKY = '#00a2ff', TEAL = '#00ffb3', GREEN = '#00ff00', LIME = '#a6ff00', RED = '#ff0000';
const ZMAIN = '#006eff', ZSKY = '#00b4ff', ZDARK = '#0018f0', ZTEAL = '#00ffc0', YELLOW = '#e8ff00', ORANGE = '#ffb000', HOT = '#ff2a00', GOLD = '#d8b060';

const fill = (color, ...polys) => polys.map((pts) => ({ pts, color }));
const stroke = (color, width, ...polys) => polys.map((pts) => ({ pts, color, width }));

const reflLayers = [
    fill(BLACK, rBlack, rSpeck1, rSpeck2, rSpeck3, rSpeck4, rSpeck5, rSpeck6, rSpeck7, rSpeck8, rSpeck9),
    fill(PURPLE, rPurpleLeft, rPurpleSliver, rPurpleIsle, rPurpleMain, rPurpleLobe1, rPurpleLobe2, rPurpleLobe3, rPurpleEast),
    fill(BLUE, rBlueLeft, rBlueIsle, rBlueMain, rBlueEast, rBlueBand),
    fill(PURPLE, rPurpleBand, rPurpleStrip, rPurpleDome, rPurpleDot1, rPurpleDot2, rPurpleDot3, rPurpleDot4, rPurpleGap, rPurpleKnob),
    fill(BLACK, rBlackSliver, rBlackDot1, rBlackDot2, rBlackPocket),
    fill(SKY, rSky1, rSky1b, rSky2, rSky3, rSkyV, rSkyEastTop, rSkyEast, rSkyPatch, rSkySliver, rSkyRight),
    fill(BLUE, rBluePocket1, rBluePocket2, rBluePocket3, rBlueDot),
    fill(TEAL, rTeal1, rTeal2, rTeal3, rTealMid, rTealV, rTealCol, rTealEast, rTealNotch),
    fill(GREEN, rGreen1, rGreen2, rGreen3, rGreen4, rGreen5, rGreen6, rGreenEast),
    fill(TEAL, rTealOver1, rTealOver2, rTealOver3, rTealRing),
    fill(SKY, rSkyRing, rSkyMid),
    fill(LIME, rYg1, rYg2, rYg3, rYg4, rYg5, rYg6),
    fill(GREEN, rStripeGreen),
    fill(TEAL, rStripeTeal),
    fill(SKY, rStripeSky),
    fill(BLUE, rStripeBlue),
    fill(PURPLE, rStripePurple),
    fill(RED, rRedTop, rRed1, rRed2, rRed3, rRed4, rRed5, rRed6),
    fill(BLACK, rRedHole),
];

const zHot = [zHotA1, zHotA2, zHotA3, zHotB, zHotC1, zHotC2];
const zdrLayers = [
    fill(ZMAIN, zMain),
    fill(ZSKY, zSky1, zSky2, zSky3, zSky4, zSky5, zSky6, zSky7, zSky8, zSky9, zSky10, zSky11, zSky12, zSky13, zSky14, zSky15, zSky16, zSky17, zSky18, zSky19, zSky20, zSky21, zSkyTop),
    fill(ZDARK, zDark1, zDark2, zDark3, zDark4, zDark5, zDark6, zDark7, zDark8, zDark9, zDark10, zDark11, zDark12, zDark13, zDark14, zDark15, zDark16, zDark17, zDark18, zDark19, zDark20, zDark21, zDark22, zDark23, zDark24),
    fill(ZTEAL, zTealTop, zTealA),
    fill(GREEN, zGreenTop, zGreenA),
    stroke(YELLOW, 5, zLensOrange1, zLensOrange2),
    fill(ORANGE, zLensOrange1, zLensOrange2),
    fill(RED, zLensRed1, zLensRed2),
    fill(GOLD, zGold1, zGold2, zGold3),
    fill(ZSKY, zLowSky1, zLowSky2, zLowSky3),
    fill(ZTEAL, zLowTeal1, zLowTeal2, zLowTeal3, zTealCol),
    fill(ZDARK, zBand1, zBand2, zBand3),
    fill(GREEN, zGreenLow, zGreenBit, zGreenTip, zGreenCol),
    fill(YELLOW, zYellowTip),
    stroke(ZSKY, 18, zBaseRim),
    stroke(ZTEAL, 11, zBaseRim),
    stroke(GREEN, 7, zBaseRim),
    stroke(YELLOW, 3.5, zBaseRim),
    stroke(ORANGE, 2, zBaseTop, zBaseBottom),
    stroke(ZSKY, 38, ...zHot),
    stroke(ZTEAL, 28, ...zHot),
    stroke(GREEN, 19, ...zHot),
    stroke(ZSKY, 22, zHotD, zWarmE1, zWarmE2, zWarmF),
    stroke(ZTEAL, 16, zHotD, zWarmE1, zWarmE2, zWarmF),
    stroke(GREEN, 10, zHotD, zWarmE1, zWarmE2, zWarmF, zWarmG),
    stroke(YELLOW, 10, ...zHot),
    stroke(YELLOW, 5, zHotD, zWarmE1, zWarmE2, zWarmF, zWarmG, zOrangeB),
    fill(ORANGE, zOrangeB, zWarmE1, zWarmE2, zWarmF),
    fill(HOT, zBase, zHotA1, zHotA2, zHotA3, zHotB, zHotC1, zHotC2),
    fill(RED, zHotD, zRedA, zRedB, zRedC, zRed1, zRed2, zRed3, zRed4, zRed5, zRed6, zRed7),
    fill('#ffffff', zMaskBottom, zMaskRight, zMaskGapEast, zMaskGapWest),
    fill(ZSKY, zFoot),
];

const font = (size, style = 'italic') => ({ family: '"Liberation Sans"', size, weight: 'bold', style, lineHeight: 1.2 });

// inward IDL style ticks on all four sides, on top of the contours
const frameTicks = {
    id: 'frameTicks',
    afterDatasetsDraw(chart) {
        const { ctx, chartArea: a, scales: { x, y } } = chart;
        ctx.save();
        ctx.strokeStyle = '#2a2a2a';
        ctx.lineWidth = 1.5;
        const line = (x0, y0, x1, y1) => {
            ctx.beginPath();
            ctx.moveTo(x0, y0);
            ctx.lineTo(x1, y1);
            ctx.stroke();
        };
        ctx.strokeRect(a.left, a.top, a.right - a.left, a.bottom - a.top);
        const xTick = (v, len) => {
            const px = x.getPixelForValue(v);
            line(px, a.top, px, a.top + len);
            line(px, a.bottom, px, a.bottom - len);
        };
        const yTick = (v, len) => {
            const py = y.getPixelForValue(v);
            line(a.left, py, a.left + len, py);
            line(a.right, py, a.right - len, py);
        };
        xMajor.forEach((v) => xTick(v, 14));
        xMinor.forEach((v) => xTick(v, 7));
        yMajor.forEach((v) => yTick(v, 26));
        yMinor.forEach((v) => yTick(v, 13));
        ctx.restore();
    },
};

function makePanel(id, layers) {
    const flat = layers.flat();
    new Chart(document.getElementById(id), {
        type: 'line',
        data: {
            datasets: flat.map((l, i) => {
                const isStroke = l.width !== undefined;
                return {
                    data: l.pts.map(([x, y]) => ({ x, y })),
                    order: flat.length - i,
                    fill: isStroke ? false : 'shape',
                    backgroundColor: l.color,
                    borderColor: l.color,
                    borderWidth: isStroke ? l.width : 0,
                    borderJoinStyle: 'round',
                    borderCapStyle: 'round',
                    pointRadius: 0,
                    tension: 0,
                };
            }),
        },
        options: {
            responsive: false,
            animation: false,
            events: [],
            layout: { autoPadding: false, padding: { left: 0, right: 80, top: 0, bottom: 0 } },
            plugins: {
                legend: { display: false },
                tooltip: { enabled: false },
                title: {
                    display: true,
                    text: 'NPOL Vertical Profile 01/25/2013',
                    fullSize: false,
                    color: '#111',
                    font: font(33, 'normal'),
                    padding: { top: 34, bottom: 7.4 },
                },
            },
            scales: {
                x: {
                    type: 'linear',
                    min: 15.5,
                    max: 24,
                    grid: { display: false },
                    border: { display: false },
                    afterFit: (s) => { s.height = 130; },
                    afterBuildTicks: (s) => { s.ticks = xMajor.map((value) => ({ value })); },
                    ticks: { color: '#111', font: font(25), padding: 16, maxRotation: 0, autoSkip: false },
                    title: { display: true, text: 'Time of Day [UTC]', color: '#111', font: font(26.4), padding: { top: 0, bottom: 37 } },
                },
                y: {
                    type: 'linear',
                    min: 0,
                    max: 10.25,
                    grid: { display: false },
                    border: { display: false },
                    afterFit: (s) => { s.width = 267; },
                    afterBuildTicks: (s) => { s.ticks = yLabelAt.map((value) => ({ value })); },
                    ticks: {
                        color: '#111',
                        font: font(25),
                        padding: 3,
                        labelOffset: 4,
                        autoSkip: false,
                        callback: (v, i) => yLabels[i],
                    },
                    title: { display: true, text: 'Height [km]', color: '#111', font: font(26), padding: { top: 177, bottom: 0 } },
                },
            },
        },
        plugins: [frameTicks],
    });
}

function makeBar(id, labels, colors, title) {
    new Chart(document.getElementById(id), {
        type: 'bar',
        data: {
            labels: [''],
            datasets: colors.map((color, i) => ({
                data: [[i, i + 1]],
                backgroundColor: color,
                borderColor: '#222',
                borderWidth: 1,
                borderSkipped: false,
                barPercentage: 1,
                categoryPercentage: 1,
                grouped: false,
            })),
        },
        options: {
            indexAxis: 'y',
            responsive: false,
            animation: false,
            events: [],
            layout: { autoPadding: false, padding: { left: 67.5, right: 78, top: 13, bottom: 0 } },
            plugins: { legend: { display: false }, tooltip: { enabled: false } },
            scales: {
                y: { display: false },
                x: {
                    type: 'linear',
                    min: 0,
                    max: labels.length - 1,
                    grid: { display: false },
                    border: { display: false },
                    afterFit: (s) => { s.height = 80; },
                    afterBuildTicks: (s) => { s.ticks = labels.map((_, value) => ({ value })); },
                    ticks: {
                        color: '#111',
                        font: font(19.5),
                        padding: 9,
                        maxRotation: 0,
                        autoSkip: false,
                        callback: (v) => labels[v],
                    },
                    title: { display: true, text: title, color: '#111', font: font(19.6), padding: { top: 0, bottom: 7 } },
                },
            },
        },
    });
}

makePanel('refl', reflLayers);
makePanel('zdr', zdrLayers);
makeBar('reflBar', reflLabels, reflColors, 'Reflectivity [dBZ]');
makeBar('zdrBar', zdrLabels, zdrColors, 'Differential Reflectivity [dB]');

strayY.forEach((y) => {
    const d = document.createElement('div');
    d.className = 'stray';
    d.style.top = y + 'px';
    document.body.appendChild(d);
});
</script>
</body>
</html>
